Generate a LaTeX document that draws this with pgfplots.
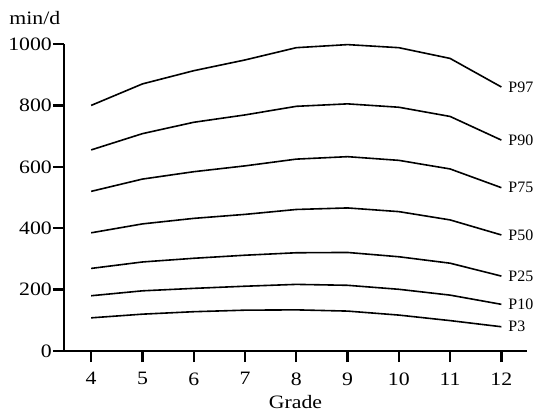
\documentclass[border=0pt]{standalone}
\usepackage{fontspec}
\setmainfont{Liberation Serif}[FakeStretch=1.15]
\newfontfamily\labfont{Liberation Serif}
\usepackage{pgfplots}
\usepackage{pgfplotstable}
\pgfplotsset{compat=1.18}

% percentile curves, min/d by grade
\pgfplotstableread{
grade P3  P10 P25 P50 P75 P90 P97
4     108 180 269 385 520 655 800
5     120 196 290 414 560 708 870
6     128 204 302 432 584 745 913
7     133 211 312 445 603 769 948
8     134 217 320 461 625 797 988
9     130 214 321 466 633 805 998
10    117 201 307 454 621 794 988
11    99  182 286 427 593 764 953
12    79  152 244 378 532 687 860
}\pct

\begin{document}
\begin{tikzpicture}
\path[use as bounding box] (-64bp,-63bp) rectangle (482bp,351bp);
\begin{axis}[
  at={(0,0)}, anchor=south west,
  scale only axis, width=463bp, height=307bp,
  xmin=3.47, xmax=12.5, ymin=0, ymax=1000,
  axis x line=bottom, axis y line=left,
  axis line style={-, line width=2.4bp},
  xtick={4,...,12}, ytick={0,200,...,1000},
  tick align=outside, major tick length=11bp,
  major tick style={line width=2.4bp, black},
  ticklabel style={font=\fontsize{19}{22}\selectfont},
  yticklabel style={inner xsep=1bp},
  xticklabel style={yshift=-7bp},
  /pgf/number format/assume math mode=true,
  /pgf/number format/1000 sep={},
  xlabel={Grade}, ylabel={min/d},
  label style={font=\fontsize{19}{22}\selectfont},
  xlabel style={at={(axis description cs:0.5,0)}, anchor=center, yshift=-51bp},
  ylabel style={at={(axis description cs:-0.063,1.085)}, rotate=-90, anchor=center},
  every axis plot post/.append style={black, solid, line width=1.6bp, mark=none},
  clip=false,
]
\foreach \p in {P3,P10,P25,P50,P75,P90,P97}{
  \edef\tmp{\noexpand\addplot table[x=grade, y=\p] {\noexpand\pct}
    node[pos=1, anchor=west, xshift=3bp, font=\noexpand\labfont\noexpand\fontsize{16}{18}\noexpand\selectfont] {\p};}
  \tmp
}
\end{axis}
\end{tikzpicture}
\end{document}
